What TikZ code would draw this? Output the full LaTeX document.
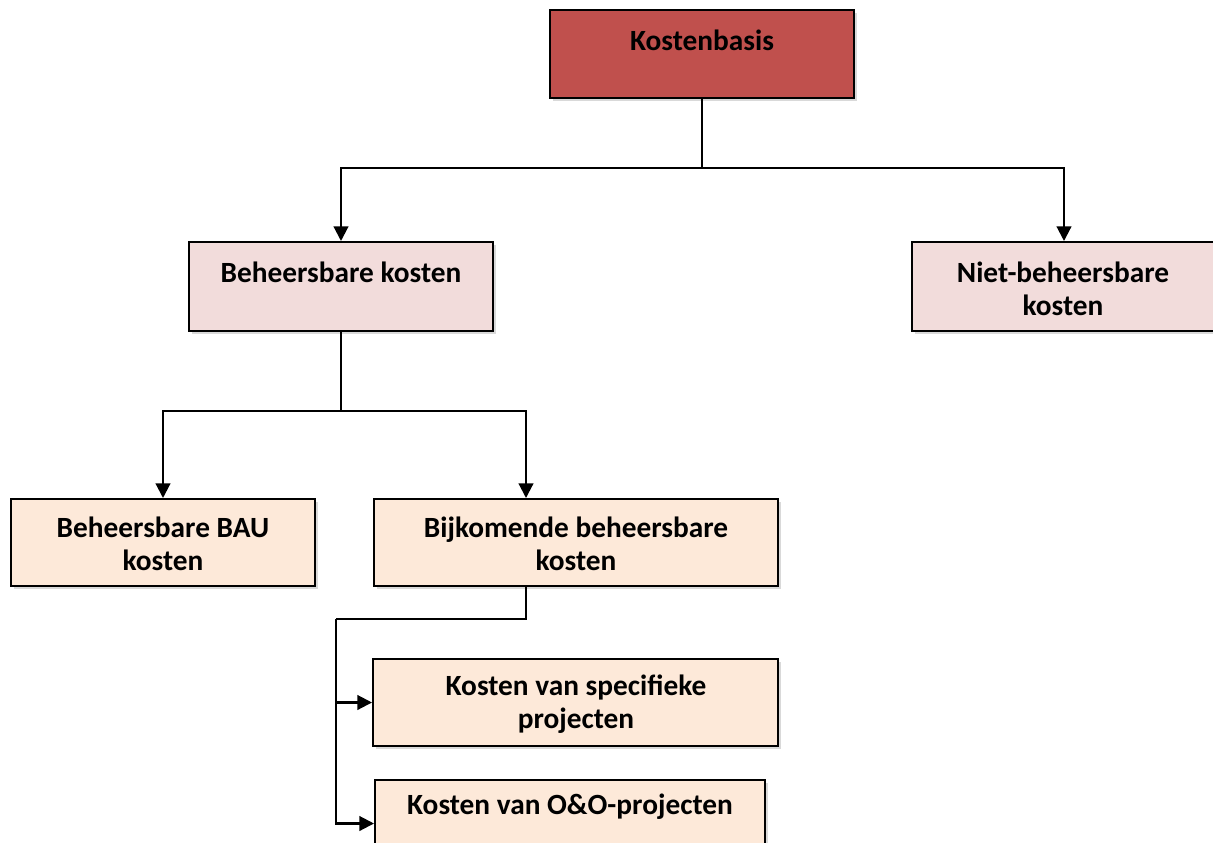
\documentclass[tikz,border=0pt]{standalone}
\usepackage{fontspec}
\setmainfont{Carlito}
\usetikzlibrary{arrows.meta,shadows}
\definecolor{topred}{HTML}{C0504D}
\definecolor{pinkbox}{HTML}{F2DCDB}
\definecolor{peachbox}{HTML}{FDE9D9}
\tikzset{
  box/.style={draw=black, line width=1.5pt, inner sep=0pt,
    drop shadow={shadow xshift=2pt, shadow yshift=-2.5pt, opacity=0.3}},
  lbl/.style={font=\fontsize{22}{24.75}\selectfont\bfseries, align=center, inner sep=0pt},
  conn/.style={line width=1.6pt, draw=black},
  arr/.style={conn, -{Triangle[width=11pt,length=11pt]}},
}
\begin{document}
\begin{tikzpicture}[x=0.75pt,y=-0.75pt]
\useasboundingbox (0,0) rectangle (1213,842);
\clip (0,0) rectangle (1213,842);
% boxes
\node[box, fill=topred, minimum width=228pt, minimum height=66pt] (kb) at (702,54) {};
\node[box, fill=pinkbox, minimum width=228pt, minimum height=66.75pt] (bk) at (341,286.5) {};
\node[box, fill=pinkbox, minimum width=228pt, minimum height=66.75pt] (nbk) at (1064,286.5) {};
\node[box, fill=peachbox, minimum width=228pt, minimum height=65.25pt] (bau) at (163,542.5) {};
\node[box, fill=peachbox, minimum width=303pt, minimum height=65.25pt] (bij) at (576,542.5) {};
\node[box, fill=peachbox, minimum width=303.75pt, minimum height=65.25pt] (spec) at (575.5,702.5) {};
\node[box, fill=peachbox, minimum width=292.5pt, minimum height=65.25pt] (oo) at (570,823.5) {};
% labels
\node[lbl] (tkb) at (702,40) {Kostenbasis};
\node[lbl] (tbk) at (341,272) {Beheersbare kosten};
\node[lbl] (tnbk) at (1063,288.5) {Niet-beheersbare\\kosten};
\node[lbl] (tbau) at (163,543.5) {Beheersbare BAU\\kosten};
\node[lbl] (tbij) at (576,543.5) {Bijkomende beheersbare\\kosten};
\node[lbl] (tspec) at (576,704) {Kosten van specifieke\\projecten};
\node[lbl] (too) at (570,807) {Kosten van O\&O-projecten};
% junctions
\coordinate (j1) at (702,168);
\coordinate (j2) at (341,411);
\coordinate (j3) at (526,619);
\coordinate (j4) at (336,619);
% connectors
\draw[conn] (kb.south) -- (j1);
\draw[arr] (j1) -| (bk.north);
\draw[arr] (j1) -| (nbk.north);
\draw[conn] (bk.south) -- (j2);
\draw[arr] (j2) -| (bau.north);
\draw[arr] (j2) -| (bij.north -| j3);
\draw[conn] (bij.south -| j3) -- (j3) -- (j4);
\draw[arr] (j4) |- (spec.west);
\draw[arr] (j4) |- (oo.west);
\end{tikzpicture}
\end{document}
